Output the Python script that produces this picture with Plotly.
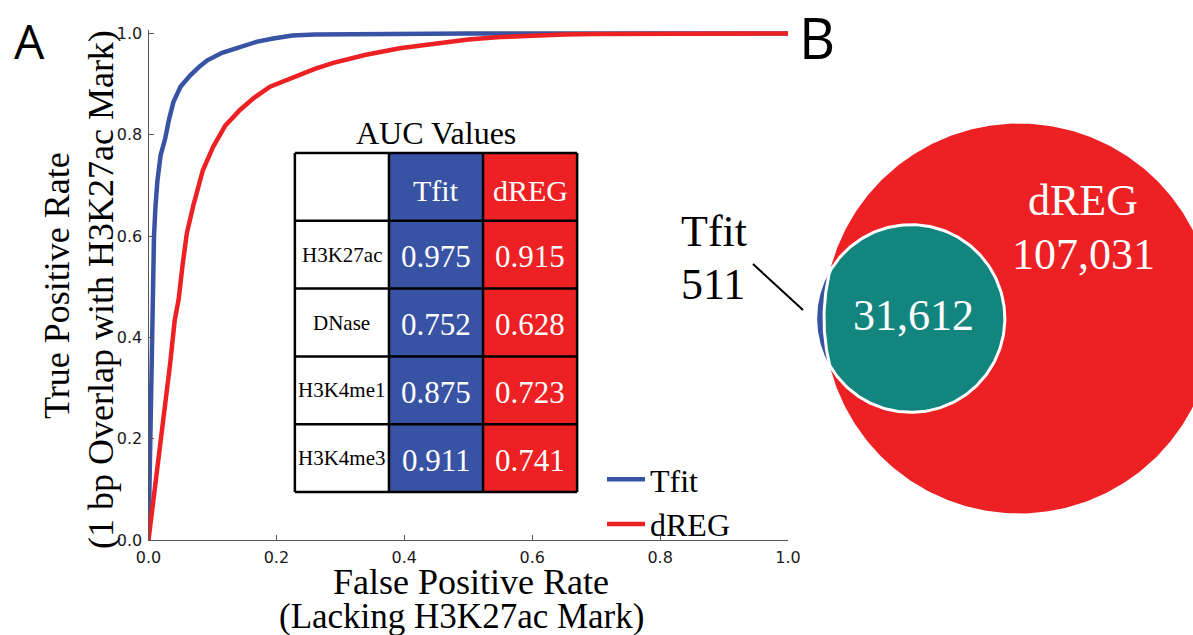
import numpy as np
import plotly.graph_objects as go

W, H = 1193, 635

# ---------------- data ----------------
tfit_fpr = [0, 0.002, 0.004, 0.005, 0.006, 0.0075, 0.0086, 0.011, 0.014, 0.019, 0.026, 0.032,
            0.039, 0.05, 0.065, 0.08, 0.092, 0.115, 0.143, 0.17, 0.195, 0.225, 0.26, 0.35, 0.5, 1.0]
tfit_tpr = [0, 0.15, 0.3, 0.4, 0.475, 0.55, 0.6, 0.66, 0.71, 0.76, 0.792, 0.83,
            0.865, 0.895, 0.917, 0.935, 0.947, 0.962, 0.974, 0.984, 0.99, 0.996, 0.998, 0.999, 1.0, 1.0]

dreg_fpr = [0, 0.01, 0.02, 0.028, 0.034, 0.041, 0.047, 0.053, 0.06, 0.07, 0.085, 0.101, 0.12,
            0.143, 0.165, 0.19, 0.226, 0.26, 0.289, 0.34, 0.393, 0.45, 0.5, 0.55, 0.6, 0.65,
            0.7, 0.8, 1.0]
dreg_tpr = [0, 0.1, 0.2, 0.28, 0.35, 0.434, 0.474, 0.54, 0.606, 0.66, 0.73, 0.776, 0.818,
            0.849, 0.873, 0.895, 0.914, 0.93, 0.942, 0.958, 0.971, 0.981, 0.988, 0.993, 0.996,
            0.998, 0.999, 1.0, 1.0]

marks = ["H3K27ac", "DNase", "H3K4me1", "H3K4me3"]
methods = ["Tfit", "dREG"]
tfit_auc = [0.975, 0.752, 0.875, 0.911]
dreg_auc = [0.915, 0.628, 0.723, 0.741]

venn_tfit_only = 511
venn_dreg_only = 107031
venn_both = 31612

x_ticks = [0.0, 0.2, 0.4, 0.6, 0.8, 1.0]
y_ticks = [0.0, 0.2, 0.4, 0.6, 0.8, 1.0]

# ---------------- style ----------------
BLUE = "#3953a4"
RED = "#ed2024"
TEAL = "#12857f"
SERIF = "Liberation Serif"
SANS = "DejaVu Sans"


def px(x):
    return x / W


def py(y):
    return 1 - y / H


def note(x, y, text, size, color="black", family=SERIF, **kw):
    d = dict(x=px(x), y=py(y), xref="paper", yref="paper", text=text, showarrow=False,
             xanchor="center", yanchor="middle",
             font=dict(family=family, size=size, color=color))
    d.update(kw)
    return d


fig = go.Figure()

# ---------------- Panel A : ROC ----------------
fig.add_trace(go.Scatter(x=tfit_fpr, y=tfit_tpr, mode="lines", name="Tfit",
                         line=dict(color=BLUE, width=4.5), xaxis="x", yaxis="y"))
fig.add_trace(go.Scatter(x=dreg_fpr, y=dreg_tpr, mode="lines", name="dREG",
                         line=dict(color=RED, width=4.5), xaxis="x", yaxis="y"))

ax_common = dict(showgrid=False, zeroline=False, showline=True, linecolor="#555",
                 linewidth=1, ticks="inside", ticklen=5, tickcolor="#555", automargin=False,
                 tickfont=dict(family=SANS, size=16, color="#1a1a1a"))

x0_px, x1_px = 148.5, 788
y0_px, y1_px = 540, 33.5
ytop = 1.006
ytop_px = y0_px - (y0_px - y1_px) * ytop

fig.update_layout(
    xaxis=dict(domain=[px(x0_px), px(x1_px)], range=[0, 1], tickvals=x_ticks,
               ticktext=[f"{v:.1f}" for v in x_ticks], anchor="y",
               ticklabelstandoff=3, **ax_common),
    yaxis=dict(domain=[py(y0_px), py(ytop_px)], range=[0, ytop], tickvals=y_ticks,
               ticktext=[f"{v:.1f}" for v in y_ticks], anchor="x",
               ticklabelstandoff=2, **ax_common),
)

# ---------------- AUC table (own axes) ----------------
tx0, tx1 = 293, 579
ty0, ty1 = 151, 494
ex, ey = 0.02, 0.03
fig.update_layout(
    xaxis2=dict(domain=[px(tx0), px(tx1)], range=[-0.5 - ex, 2.5 + ex], visible=False,
                anchor="y2", fixedrange=True),
    yaxis2=dict(domain=[py(ty1), py(ty0)], range=[len(marks) + 0.5 + ey, -0.5 - ey],
                visible=False, anchor="x2", fixedrange=True),
)
ncol = len(methods) + 1
nrow = len(marks) + 1
z = [[c for c in range(ncol)] for _ in range(nrow)]
fig.add_trace(go.Heatmap(
    z=z, x=list(range(ncol)), y=list(range(nrow)), xaxis="x2", yaxis="y2",
    zmin=0, zmax=2, showscale=False, hoverinfo="skip", showlegend=False,
    colorscale=[[0, "#ffffff"], [0.333, "#ffffff"], [0.333, BLUE], [0.667, BLUE],
                [0.667, RED], [1, RED]]))

shapes = []
for c in range(ncol + 1):
    shapes.append(dict(type="line", xref="x2", yref="y2", x0=c - 0.5, x1=c - 0.5,
                       y0=-0.5, y1=nrow - 0.5, line=dict(color="black", width=2.5)))
for r in range(nrow + 1):
    shapes.append(dict(type="line", xref="x2", yref="y2", x0=-0.5, x1=ncol - 0.5,
                       y0=r - 0.5, y1=r - 0.5, line=dict(color="black", width=2.5)))

annotations = []
annotations.append(dict(x=(ncol - 1) / 2, y=-0.5, xref="x2", yref="y2", text="AUC Values",
                        showarrow=False, xanchor="center", yanchor="bottom", yshift=0,
                        font=dict(family=SERIF, size=32, color="black")))
for j, m in enumerate(methods):
    annotations.append(dict(x=j + 1, y=0, xref="x2", yref="y2", text=m, showarrow=False,
                            xanchor="center", yanchor="middle", yshift=-4,
                            font=dict(family=SERIF, size=30, color="white")))
for i, mk in enumerate(marks):
    annotations.append(dict(x=0, y=i + 1, xref="x2", yref="y2", text=mk, showarrow=False,
                            xanchor="center", yanchor="middle",
                            font=dict(family=SERIF, size=21, color="black")))
    for j, vals in enumerate([tfit_auc, dreg_auc]):
        annotations.append(dict(x=j + 1, y=i + 1, xref="x2", yref="y2",
                                text=f"{vals[i]:.3f}", showarrow=False,
                                xanchor="center", yanchor="middle", yshift=-2,
                                font=dict(family=SERIF, size=31, color="white")))

# ---------------- Panel B : Venn ----------------
A_T = venn_tfit_only + venn_both
A_D = venn_dreg_only + venn_both
r_T = np.sqrt(A_T / np.pi)
r_D = np.sqrt(A_D / np.pi)


def overlap(d, r, R):
    a = r * r * np.arccos(np.clip((d * d + r * r - R * R) / (2 * d * r), -1, 1))
    b = R * R * np.arccos(np.clip((d * d + R * R - r * r) / (2 * d * R), -1, 1))
    c = 0.5 * np.sqrt(max((-d + r + R) * (d + r - R) * (d - r + R) * (d + r + R), 0))
    return a + b - c


lo, hi = r_D - r_T + 1e-9, r_D + r_T
for _ in range(200):
    mid = 0.5 * (lo + hi)
    if overlap(mid, r_T, r_D) > venn_both:
        lo = mid
    else:
        hi = mid
d = 0.5 * (lo + hi)

R_px = 195.0
s = R_px / r_D
cx_px, cy_px = 1019, 318.5
vx0 = 0.662
fig.update_layout(
    xaxis3=dict(domain=[vx0, 1.0], range=[(vx0 * W - cx_px) / s, (W - cx_px) / s],
                visible=False, anchor="y3", fixedrange=True),
    yaxis3=dict(domain=[0, 1], range=[-(H - cy_px) / s, cy_px / s], visible=False,
                anchor="x3", fixedrange=True),
)

tc = -d  # Tfit centre (dREG centre at 0)
xi = (r_T ** 2 - r_D ** 2 - d ** 2) / (2 * d)
yi = np.sqrt(max(r_D ** 2 - xi ** 2, 0))
th_d = np.arctan2(yi, xi)
ph_t = np.arctan2(yi, xi - tc)

t = np.linspace(0, 2 * np.pi, 361)
fig.add_trace(go.Scatter(x=r_D * np.cos(t), y=r_D * np.sin(t), mode="lines", fill="toself",
                         fillcolor=RED, line=dict(width=0, color=RED), xaxis="x3", yaxis="y3",
                         showlegend=False, hoverinfo="skip"))

a1 = np.linspace(ph_t, 2 * np.pi - ph_t, 120)
a2 = np.linspace(2 * np.pi - th_d, th_d, 60)
cres_x = np.concatenate([tc + r_T * np.cos(a1), r_D * np.cos(a2)])
cres_y = np.concatenate([r_T * np.sin(a1), r_D * np.sin(a2)])
fig.add_trace(go.Scatter(x=cres_x, y=cres_y, mode="lines", fill="toself", fillcolor=BLUE,
                         line=dict(width=0, color=BLUE), xaxis="x3", yaxis="y3",
                         showlegend=False, hoverinfo="skip"))

b1 = np.linspace(-ph_t, ph_t, 240)
b2 = np.linspace(th_d, 2 * np.pi - th_d, 60)
lens_x = np.concatenate([tc + r_T * np.cos(b1), r_D * np.cos(b2)])
lens_y = np.concatenate([r_T * np.sin(b1), r_D * np.sin(b2)])
fig.add_trace(go.Scatter(x=lens_x, y=lens_y, mode="lines", fill="toself", fillcolor=TEAL,
                         line=dict(width=3, color="white"), xaxis="x3", yaxis="y3",
                         showlegend=False, hoverinfo="skip"))

annotations.append(dict(x=tc, y=0, xref="x3", yref="y3", text=f"{venn_both:,}",
                        showarrow=False, xanchor="center", yanchor="middle",
                        xshift=3, yshift=3,
                        font=dict(family=SERIF, size=44, color="white")))
annotations.append(note(1083, 200, "dREG", 44, "white"))
annotations.append(note(1083, 254, f"{venn_dreg_only:,}", 44, "white"))
annotations.append(note(714, 231, "Tfit", 44))
annotations.append(note(713, 284, f"{venn_tfit_only:,}", 44))
shapes.append(dict(type="line", xref="paper", yref="paper", x0=px(753), y0=py(264),
                   x1=px(803), y1=py(310), line=dict(color="black", width=2)))

# ---------------- titles / panel labels ----------------
annotations.append(note(471, 582, "False Positive Rate", 36))
annotations.append(note(461, 616, "(Lacking H3K27ac Mark)", 35))
annotations.append(note(57, 286, "True Positive Rate", 36, textangle=-90))
annotations.append(note(101, 290, "(1 bp Overlap with H3K27ac Mark)", 36, textangle=-90))
annotations.append(note(29, 40, "A", 48, family="Open Sans"))
annotations.append(note(817, 37, "B", 56, family="Open Sans"))

fig.update_layout(
    width=W, height=H, margin=dict(l=0, r=0, t=0, b=0, pad=0, autoexpand=False),
    paper_bgcolor="white", plot_bgcolor="white",
    font=dict(family=SERIF, color="black"),
    shapes=shapes, annotations=annotations,
    showlegend=True,
    legend=dict(x=px(602), y=py(452), xanchor="left", yanchor="top", itemwidth=38,
                bgcolor="rgba(0,0,0,0)", font=dict(family=SERIF, size=32, color="black"),
                tracegroupgap=0),
)

fig.write_html("out.html")
